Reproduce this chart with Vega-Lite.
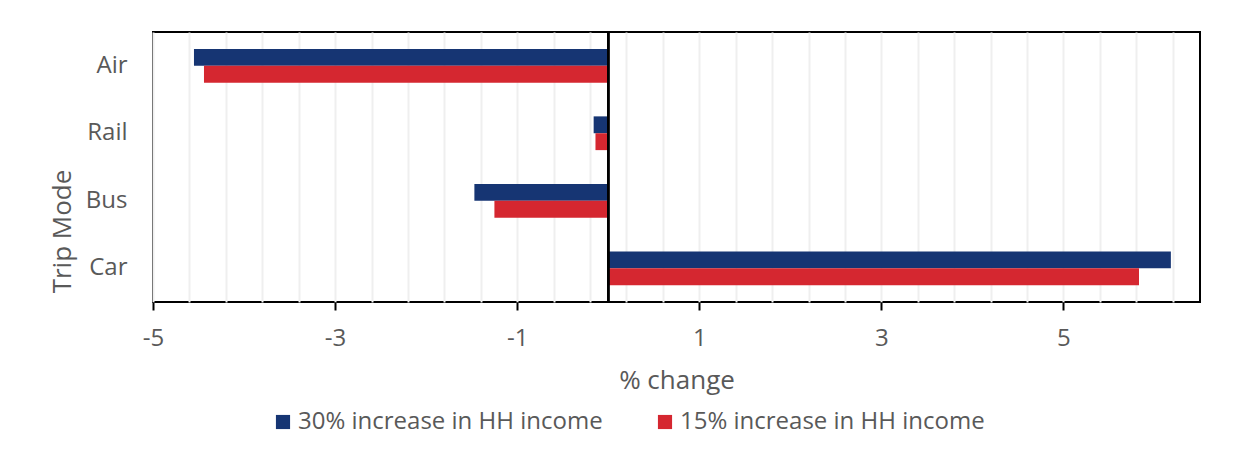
{
  "$schema": "https://vega.github.io/schema/vega-lite/v6.json",
  "autosize": {"type": "none"},
  "width": 1047,
  "height": 270,
  "padding": {"left": 153, "top": 32, "right": 39, "bottom": 158},
  "background": "white",
  "config": {
    "font": "Open Sans",
    "view": {"stroke": "black", "strokeWidth": 2},
    "axis": {"labelColor": "#595959", "titleColor": "#595959", "titleFontWeight": "normal", "labelFont": "Open Sans", "titleFont": "Open Sans"},
    "legend": {"labelColor": "#595959", "labelFont": "Open Sans"}
  },
  "data": {
    "values": [
      {"mode": "Air", "scenario": "30% increase in HH income", "change": -4.55},
      {"mode": "Air", "scenario": "15% increase in HH income", "change": -4.44},
      {"mode": "Rail", "scenario": "30% increase in HH income", "change": -0.16},
      {"mode": "Rail", "scenario": "15% increase in HH income", "change": -0.14},
      {"mode": "Bus", "scenario": "30% increase in HH income", "change": -1.47},
      {"mode": "Bus", "scenario": "15% increase in HH income", "change": -1.25},
      {"mode": "Car", "scenario": "30% increase in HH income", "change": 6.18},
      {"mode": "Car", "scenario": "15% increase in HH income", "change": 5.83}
    ]
  },
  "layer": [
    {
      "mark": {"type": "bar", "stroke": null},
      "encoding": {
        "y": {
          "field": "mode",
          "type": "nominal",
          "sort": ["Air", "Rail", "Bus", "Car"],
          "scale": {"paddingInner": 0.5, "paddingOuter": 0.25},
          "axis": {
            "title": "Trip Mode",
            "titleFontSize": 26,
            "titleAngle": -90,
            "titleX": -91,
            "titleY": 199,
            "titleAlign": "center",
            "titleBaseline": "middle",
            "labelFontSize": 24,
            "labelPadding": 26,
            "ticks": false,
            "domain": false,
            "grid": false
          }
        },
        "yOffset": {
          "field": "scenario",
          "type": "nominal",
          "sort": ["30% increase in HH income", "15% increase in HH income"]
        },
        "x": {
          "field": "change",
          "type": "quantitative",
          "scale": {"domain": [-5, 6.5], "nice": false, "zero": false},
          "axis": {
            "title": "% change",
            "titleFontSize": 26,
            "titleY": 78,
            "titleBaseline": "middle",
            "tickCount": 100,
            "values": [-5, -4.6, -4.2, -3.8, -3.4, -3, -2.6, -2.2, -1.8, -1.4, -1, -0.6, -0.2, 0.2, 0.6, 1, 1.4, 1.8, 2.2, 2.6, 3, 3.4, 3.8, 4.2, 4.6, 5, 5.4, 5.8, 6.2],
            "labelExpr": "indexof([-5, -3, -1, 1, 3, 5], datum.value) >= 0 ? '' + datum.value : ''",
            "labelFontSize": 24,
            "labelPadding": 16,
            "labelFlush": false,
            "labelOverlap": false,
            "tickSize": 8,
            "tickWidth": 2,
            "tickColor": "black",
            "tickOpacity": {"condition": {"test": "indexof([-5, -3, -1, 1, 3, 5], datum.value) >= 0", "value": 1}, "value": 0},
            "domain": false,
            "grid": true,
            "gridColor": "#efefef",
            "gridWidth": 2
          }
        },
        "color": {
          "field": "scenario",
          "type": "nominal",
          "sort": ["30% increase in HH income", "15% increase in HH income"],
          "scale": {"range": ["#163573", "#d52730"]},
          "legend": {
            "title": null,
            "orient": "none",
            "direction": "horizontal",
            "legendX": 118,
            "legendY": 378,
            "symbolType": "square",
            "symbolSize": 200,
            "symbolStrokeWidth": 0,
            "labelFontSize": 24,
            "labelOffset": 3,
            "labelLimit": 500,
            "columnPadding": 50
          }
        }
      }
    },
    {
      "mark": {"type": "rule", "color": "black", "strokeWidth": 2},
      "encoding": {"x": {"datum": 0}}
    }
  ]
}
